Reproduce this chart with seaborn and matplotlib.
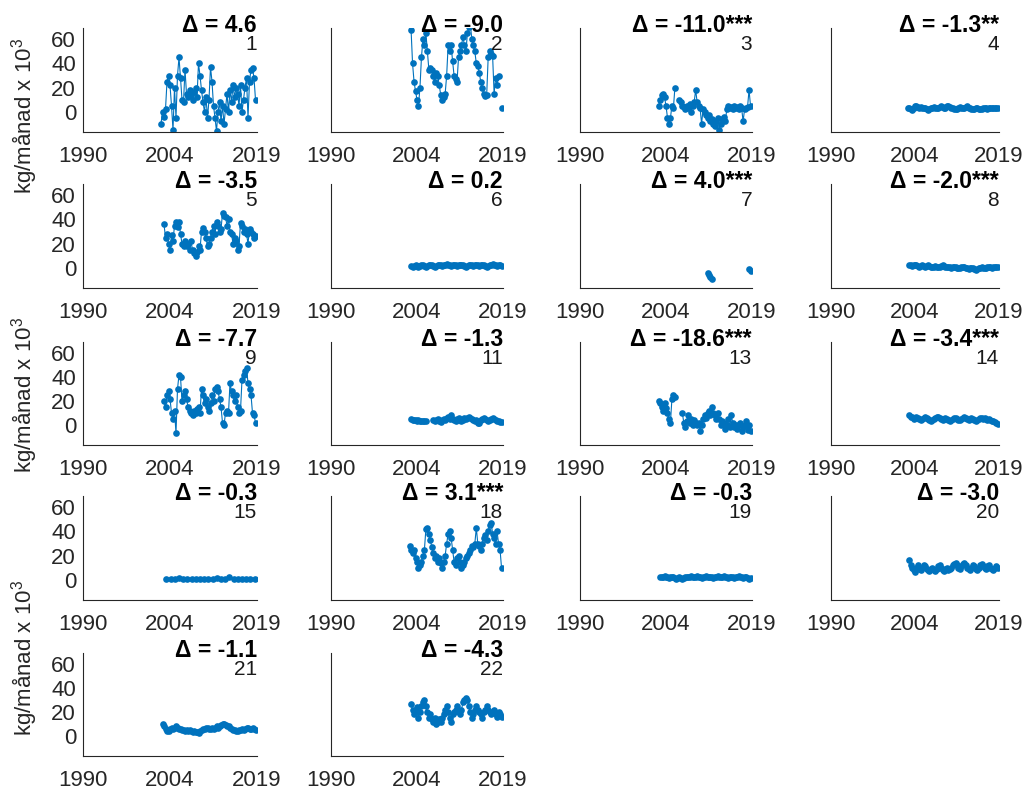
import numpy as np
import pandas as pd
import matplotlib
matplotlib.use("Agg")
import matplotlib.pyplot as plt
import seaborn as sns

nan = np.nan

# ---------------- data ----------------
panel_ids = [1, 2, 3, 4, 5, 6, 7, 8, 9, 11, 13, 14, 15, 18, 19, 20, 21, 22]
deltas = ["4.6", "-9.0", "-11.0", "-1.3", "-3.5", "0.2", "4.0", "-2.0", "-7.7",
          "-1.3", "-18.6", "-3.4", "-0.3", "3.1", "-0.3", "-3.0", "-1.1", "-4.3"]
stars = ["", "", "***", "**", "", "", "***", "***", "",
         "", "***", "***", "", "***", "", "", "", ""]

# first sample year and sampling step (years) per panel
start_year = {1: 2003.0, 2: 2003.5, 3: 2003.25, 4: 2003.25, 5: 2003.5, 6: 2003.5,
              7: 2011.5, 8: 2003.5, 9: 2003.5, 11: 2003.5, 13: 2003.25, 14: 2003.5,
              15: 2003.9, 18: 2003.25, 19: 2003.5, 20: 2003.5, 21: 2003.25, 22: 2003.5}
step_year = {p: 0.25 for p in panel_ids}
step_year[15] = 0.7

s1 = [-10, 0, -4, 2, 25, 30, 22, 5, -15, 20, -5, 30, 45, 28, 10, 8, 35, 15, 12, 18,
      14, 10, 16, 20, 12, 40, 30, 18, 8, 0, 12, -5, 10, 37, 25, 5, -5, -16, 0, 8,
      -8, 5, -10, 2, 15, 0, 18, 8, 22, 12, 20, 15, 5, 22, 0, 10, 20, 28, -5, 25,
      35, 36, 28, 10]
s2 = [68, 40, 25, 17, 10, 5, 20, 45, 60, 55, 65, 50, 35, 36, 35, 30, 25, 32, 30, 22,
      14, 10, 12, 15, 30, 55, 50, 55, 42, 30, 27, 25, 45, 50, 55, 62, 55, 50, 65, 70,
      72, 60, 55, 50, 40, 38, 32, 25, 20, 15, 13, 14, 45, 50, 48, 46, 15, 28, 22, 30,
      nan, 3]
s3 = [5, 10, 14, 15, 12, 5, -5, -10, -5, 5, 3, 20, nan, nan, 10, 8, 5, 4, 2, 5,
      3, 6, 0, 5, 8, 18, 8, 5, 3, -10, 2, 0, -3, -5, -3, -8, -6, -10, -12, -8,
      -5, -15, -10, -6, -4, -8, 2, 5, 3, 4, 2, 5, 3, 4, 2, 5, 3, -8, 2, 3, 4, 18, 5]
s4 = [3, 3.5, 2, 1.5, 3, 4.5, 5, 4, 3.5, 4, 3, 3.5, 3, 2, 1.5, 2, 3, 3.5, 4, 3.5,
      3, 3, 4, 4.5, 4, 3, 3.5, 4.5, 5, 4, 3, 3.5, 2.5, 2, 2.5, 3, 4, 3.5, 3, 3.5,
      4, 4.5, 3.5, 3, 2, 2.5, 2, 3, 3.5, 2.5, 2, 2.5, 3, 3.5, 3, 2.5, 3, 3.5, 3, 3.5,
      3, 3.5, 3]
s5 = [36, 25, 28, 20, 15, 27, 22, 35, 38, 34, 38, 28, 20, 18, 22, 18, 20, 15, 22, 15,
      12, 10, 13, 18, 15, 30, 33, 30, 25, 18, 20, 25, 30, 35, 28, 38, 35, 30, 32, 45,
      43, 42, 35, 40, 30, 28, 20, 25, 22, 15, 18, 37, 35, 30, 32, 28, 20, 32, 30, 28,
      25, 26]
s6 = [1.5, 1, 1.5, 2, 1.5, 1, 1.5, 2, 2, 1.5, 1, 1.5, 2, 2.5, 2, 1.5, 1, 1.5, 2, 2.5,
      2, 1.5, 2, 2.5, 3, 2.5, 2, 1.5, 2, 2.5, 2, 1.5, 2, 2, 2.5, 2, 1.5, 1, 1.5, 2,
      2.5, 2, 1.5, 2, 2.5, 2, 1.5, 2, 2.5, 2, 1.5, 1, 1.5, 2, 2.5, 3, 2.5, 2, 1.5, 2,
      2.5, 1.5]
s7 = [-4, -6, -8, -9,
      nan, nan, nan, nan, nan, nan, nan, nan, nan, nan, nan, nan,
      nan, nan, nan, nan, nan, nan, nan, nan, nan, nan, nan, nan,
      -1, -3]
s8 = [2, 2.5, 1.5, 2, 2.5, 2, 1.5, 1, 1.5, 2, 1.5, 1, 1.5, 2, 1.5, 1, 0.5, 1, 1.5, 1,
      0.5, 1, 1.5, 2, 1.5, 1, 0.5, 1, 0.5, 0, 0.5, 1, 0.5, 0, -0.5, 0, 0.5, 1, 0.5, 0,
      -0.5, -1, -0.5, 0, -0.5, -1, -1.5, -1, -0.5, 0, 0.5, 0, -0.5, 0, 0.5, 1, 0.5, 0,
      0.5, 1, 0.5, 0.5]
s9 = [20, 15, 25, 28, 22, 10, 5, 12, -7, 30, 42, 40, 20, 25, 28, 22, 15, 12, 10, 8,
      12, 10, 13, 15, 10, 30, 25, 18, 22, 15, 12, 18, 25, 20, 30, 32, 28, 22, 15, 2,
      0, 10, 12, 10, 35, 28, 25, 20, 25, 15, 10, 12, 38, 42, 45, 48, 35, 30, 25, 10,
      8, 2]
s11 = [5, 4.5, 4.5, 4, 3.5, 4, 3.5, 3, 3.5, 3, 3, nan, nan, nan, nan, 4, 3, 4, 5, 3,
       2.5, 4, 5, 4, 6, 7, 5, 8, 5, 4, 3, 5, 6, 4, 3, 4, 6, 5, 6, 7,
       6, 5, 4, 3, 4, 2, 2, 4, 5, 6, 5, 4, 3, 4, 5, 6, 5, 4, 3, 3, 2.5, 2.5]
s13 = [20, 18, 15, 12, 18, 14, 10, 5, 2, 22, 25, 23, nan, nan, nan, nan, 10, 2, -2, 3,
       8, 2, 5, 0, 4, 2, 0, 2, -5, 0, 5, 8, 6, 10, 12, 8, 15, 10, 8, 5,
       10, 5, 0, 3, 2, -3, 0, 5, -2, 8, 2, -2, 0, -3, 0, 2, -5, -2, 0, 3, -4, 0, -5]
s14 = [8, 7, 6.5, 5, 6, 7, 6, 5, 4, 5, 6, 7, 6, 5, 4, 3.5, 4, 5, 6, 7,
       6.5, 6, 5, 4.5, 5, 6, 5, 4, 3, 4, 5, 6, 5.5, 5, 4, 4.5, 5, 6, 7, 6,
       5, 4, 5, 6, 5, 4, 3.5, 4, 5, 6, 5.5, 5, 6, 5, 4, 5, 4, 3, 3.5, 2.5, 2, 1]
s15 = [0.5, 0.3, 0.8, 1.5, 0.5, 0.2, 0.3, 0.5, 1, 0.5, 0.4, 0.8, 1.5, 0.6, 0.5, 2,
       1, 0.5, 0.6, 1, 0.4, 0.5]
s18 = [28, 25, 22, 25, 18, 15, 10, 12, 15, 20, 25, 42, 43, 38, 33, 27, 22, 18, 20, 15,
       18, 14, 10, 15, 20, 30, 38, 40, 35, 25, 15, 12, 18, 20, 15, 10, 12, 15, 18, 20,
       22, 25, 28, 27, 30, 43, 30, 28, 25, 30, 35, 37, 33, 40, 45, 47, 38, 35, 30, 40,
       30, 25, 10]
s19 = [2.5, 2, 2.5, 3, 2.5, 2, 1.5, 2, 2.5, 2, 1.5, 1, 1.5, 2, 1.5, 1, 1.5, 2, 2.5, 2,
       2.5, 3, 2.5, 2, 2.5, 3, 2.5, 2, 1.5, 2, 2.5, 3, 2.5, 2, 2.5, 2, 1.5, 2, 2.5, 3,
       2.5, 2, 2.5, 3, 2.5, 2, 1.5, 2, 2.5, 2, 1.5, 2, 2.5, 3, 2.5, 2, 1.5, 2, 2.5, 1.5,
       1, 1.5]
s20 = [16, 12, 10, 8, 6, 10, 12, 9, 8, 10, 12, 11, 9, 8, 7, 9, 10, 8, 7, 9,
       11, 12, 10, 8, 7, 9, 10, 8, 9, 10, 12, 13, 14, 12, 10, 9, 11, 13, 14, 12,
       10, 9, 8, 10, 12, 11, 9, 8, 10, 12, 13, 11, 10, 9, 11, 12, 10, 9, 8, 10,
       11, 10]
s21 = [10, 8, 6, 4, 4, 6, 7, 6, 7, 8, 7, 6, 6, 5, 5, 4, 5, 4, 5, 4,
       3, 4, 3, 3, 2.5, 4, 5, 6, 6, 7, 7, 6, 6, 7, 6, 7, 8, 7, 8, 9,
       10, 10, 9, 8, 8, 7, 6, 5, 5, 4, 4, 5, 5, 6, 5, 6, 7, 7, 6, 6, 7, 6, 5]
s22 = [27, 22, 18, 20, 24, 15, 20, 25, 28, 30, 25, 20, 15, 18, 14, 12, 15, 10, 12, 14,
       12, 15, 18, 22, 25, 20, 15, 12, 18, 20, 22, 25, 20, 18, 22, 28, 30, 32, 30, 25,
       20, 15, 18, 22, 25, 22, 20, 18, 15, 20, 22, 25, 22, 20, 18, 20, 22, 18, 16, 20,
       18, 16]

series = {1: s1, 2: s2, 3: s3, 4: s4, 5: s5, 6: s6, 7: s7, 8: s8, 9: s9, 11: s11,
          13: s13, 14: s14, 15: s15, 18: s18, 19: s19, 20: s20, 21: s21, 22: s22}

x_ticks = [1990, 2004.5, 2019]
x_ticklabels = ["1990", "2004", "2019"]
y_ticks = [0, 20, 40, 60]
ylabel_text = "kg/månad x 10$^3$"

# ---------------- style ----------------
sns.set_style("white")
plt.rcParams["font.family"] = ["Liberation Sans", "DejaVu Sans"]
plt.rcParams["mathtext.fontset"] = "custom"
plt.rcParams["mathtext.rm"] = "Liberation Sans"
plt.rcParams["mathtext.it"] = "Liberation Sans:italic"
plt.rcParams["mathtext.bf"] = "Liberation Sans:bold"

W, H = 1030, 789
col_left = [83, 331, 580, 831]
col_right = [257, 503, 752, 999]
row_top = [28, 184, 342, 496, 653]
row_bot = [132, 288, 445, 600, 756]

line_color = "#0072BD"
axis_color = "#262626"

fig = plt.figure(figsize=(W / 100, H / 100), dpi=100)
fig.patch.set_facecolor("white")

for k, pid in enumerate(panel_ids):
    r, c = divmod(k, 4)
    l, rr, t, b = col_left[c], col_right[c], row_top[r], row_bot[r]
    ax = fig.add_axes([l / W, 1 - b / H, (rr - l) / W, (b - t) / H])
    ax.set_facecolor("white")

    vals = np.array(series[pid], dtype=float)
    yrs = start_year[pid] + step_year[pid] * np.arange(len(vals))
    seg = np.cumsum(np.isnan(vals))
    df = pd.DataFrame({"year": yrs, "val": vals, "seg": seg}).dropna()

    sns.lineplot(data=df, x="year", y="val", units="seg", estimator=None,
                 color=line_color, linewidth=0.8, marker="o", markersize=4.8,
                 markeredgewidth=0, ax=ax, legend=False)

    ax.set_xlim(1990, 2019)
    ax.set_ylim(-16.8, 69.4)
    ax.set_xticks(x_ticks)
    ax.set_xticklabels(x_ticklabels)
    ax.set_yticks(y_ticks)
    if c == 0:
        ax.set_yticklabels([str(v) for v in y_ticks])
    else:
        ax.set_yticklabels([])
    ax.set_xlabel("")
    ax.set_ylabel("")
    for side in ("top", "right"):
        ax.spines[side].set_visible(False)
    for side in ("left", "bottom"):
        ax.spines[side].set_color(axis_color)
        ax.spines[side].set_linewidth(0.8)
    ax.tick_params(axis="both", direction="in", length=3.5, width=0.8,
                   colors=axis_color, labelcolor=axis_color)
    ax.tick_params(axis="x", labelsize=16, pad=10)
    ax.tick_params(axis="y", labelsize=16, pad=5)
    ax.grid(False)

    dtext = "Δ = " + deltas[k] + stars[k]
    ax.text(1.0, 0.962, dtext, transform=ax.transAxes, ha="right", va="baseline",
            fontsize=16.5, fontweight="bold", color="#000000")
    ax.text(1.0, 0.784, str(pid), transform=ax.transAxes, ha="right",
            va="baseline", fontsize=15, color="#1a1a1a")

for yc in (116, 395, 658):
    fig.text(25 / W, 1 - yc / H, ylabel_text, rotation=90, ha="center",
             va="center", fontsize=16, color=axis_color)

fig.savefig("out.png", dpi=100, facecolor="white")
